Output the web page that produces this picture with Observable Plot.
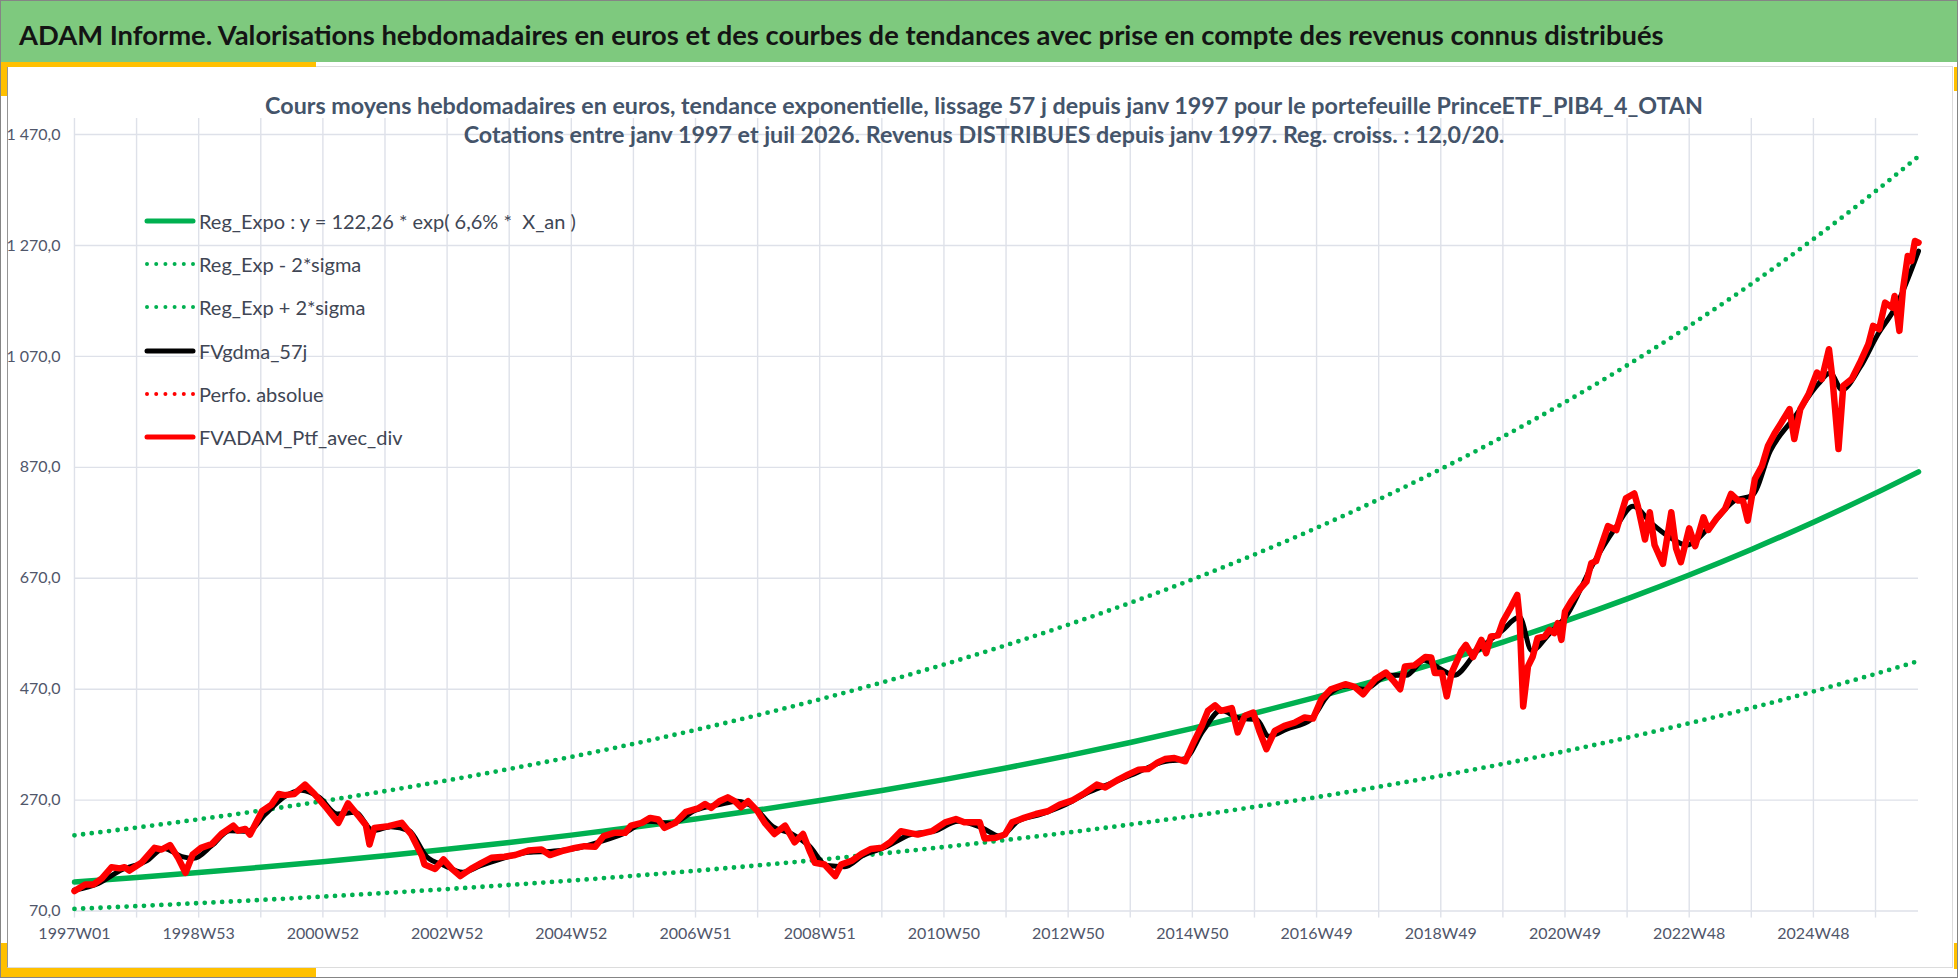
<!DOCTYPE html>
<html><head><meta charset="utf-8">
<script src="https://cdn.jsdelivr.net/npm/d3@7"></script>
<script src="https://cdn.jsdelivr.net/npm/@observablehq/plot@0.6"></script>
<style>
html,body{margin:0;padding:0;background:#fff;}
#frame{position:relative;width:1958px;height:978px;overflow:hidden;background:#fff;font-family:Lato,"Open Sans",sans-serif;box-sizing:border-box;border:1px solid #858585;}
#header{position:absolute;left:0;top:0;width:1956px;height:61px;background:#7ec97e;}
#title{position:absolute;left:18px;top:32.5px;transform:translateY(-50%);white-space:pre;font-weight:700;color:#141414;font-size:30px;}
.yl{position:absolute;background:#ffc000;}
#panel{position:absolute;left:6px;top:65px;width:1946px;height:902px;border:1px solid #dcdcdc;border-left:1px solid #959595;box-sizing:border-box;}
#chart{position:absolute;left:-1px;top:65px;}
.sub{position:absolute;left:983px;transform:translate(-50%,-50%);white-space:pre;font-weight:700;color:#44546a;font-size:24px;}
.lt{position:absolute;left:198px;transform:translateY(-50%);white-space:pre;color:#404654;font-size:20px;}
.ls{position:absolute;left:142px;}
</style>
</head><body>
<div id="frame">
  <div id="panel"></div>
  <div id="header"><div id="title"></div></div>
  <div class="yl" style="left:0;top:61px;width:315px;height:5px"></div>
  <div class="yl" style="left:0;top:61px;width:6px;height:34px"></div>
  <div class="yl" style="left:0;top:942px;width:6px;height:34px"></div>
  <div class="yl" style="left:0;top:967px;width:315px;height:9px"></div>
  <div class="yl" style="left:1953px;top:66px;width:3px;height:24px"></div>
  <div class="yl" style="left:1953px;top:942px;width:3px;height:26px"></div>
  <div id="chart"></div>
  <div id="sub1" class="sub" style="top:104px"></div>
  <div id="sub2" class="sub" style="top:133px"></div>
  <div id="legend"></div>
</div>
<script>
// ---------- texts ----------
const titleText = "ADAM Informe. Valorisations hebdomadaires en euros et des courbes de tendances avec prise en compte des revenus connus distribués";
const subtitle1 = "Cours moyens hebdomadaires en euros, tendance exponentielle, lissage 57 j depuis janv 1997 pour le portefeuille PrinceETF_PIB4_4_OTAN";
const subtitle2 = "Cotations entre janv 1997 et juil 2026. Revenus DISTRIBUES depuis janv 1997. Reg. croiss. : 12,0/20.";

// ---------- axes ----------
const xLabels = ["1997W01","1998W53","2000W52","2002W52","2004W52","2006W51","2008W51","2010W50","2012W50","2014W50","2016W49","2018W49","2020W49","2022W48","2024W48"];
const yTicks = [70,270,470,670,870,1070,1270,1470];
const lastWeek = 1544;

// ---------- legend ----------
const legendLabels = ["Reg_Expo : y = 122,26 * exp( 6,6% *  X_an )","Reg_Exp - 2*sigma","Reg_Exp + 2*sigma","FVgdma_57j","Perfo. absolue","FVADAM_Ptf_avec_div"];
const legendColors = ["#00b050","#00b050","#00b050","#000000","#ff0000","#ff0000"];
const legendDotted = [false,true,true,false,true,false];

// ---------- regression curves (week index, value) ----------
const regWeek = [0,52,104,156,208,260,312,364,416,468,520,572,624,676,728,780,832,884,936,988,1040,1092,1144,1196,1248,1300,1352,1404,1456,1508,1544];
const regValue = [122.26,130.57,139.45,148.93,159.06,169.87,181.41,193.75,206.92,220.99,236.01,252.05,269.19,287.49,307.03,327.91,350.20,374.01,399.43,426.59,455.59,486.56,519.64,554.97,592.69,632.99,676.02,721.98,771.06,823.48,861.9];
const regLow = [73.9,78.9,84.3,90.0,96.1,102.6,109.6,117.1,125.0,133.5,142.6,152.3,162.6,173.7,185.5,198.1,211.6,226.0,241.3,257.8,275.3,294.0,314.0,335.3,358.1,382.5,408.5,436.2,465.9,497.6,520.8];
const regHigh = [206.6,220.5,235.4,251.2,268.2,286.2,305.5,326.1,348.0,371.5,396.5,423.2,451.7,482.1,514.6,549.3,586.2,625.7,667.8,712.8,760.8,812.1,866.8,925.1,987.4,1053.9,1124.9,1200.6,1281.5,1367.8,1430.8];

// ---------- portfolio with dividends (red) ----------
const ptfWeek = [0,9,16,23,31,38,42,46,56,67,73,80,87,93,99,106,115,123,133,137,143,147,157,165,171,176,184,193,201,211,221,229,238,244,247,251,263,274,282,291,293,302,309,316,323,332,341,349,360,369,380,
391,398,408,419,427,436,443,452,461,466,475,482,489,494,503,512,522,528,533,540,547,553,558,564,572,578,586,595,603,610,616,620,628,637,642,651,659,667,676,683,692,701,706,718,729,738,745,758,762,771,779,785,795,805,815,825,
835,846,856,863,874,882,891,899,907,913,921,930,937,944,949,955,960,969,974,980,987,992,998,1005,1013,1022,1030,1037,1044,1052,1064,1072,1079,1089,1098,1104,1110,1114,1122,1131,1136,1139,1145,1149,1153,1161,1165,1171,1178,1182,1186,1192,1196,1203,1208,1210,1213,1217,1221,1225,1231,1235,1239,1242,1245,1248,1253,1261,1266,1270,1274,1284,1291,1299,1306,1309,1315,1319,1323,1330,1337,1341,1345,1352,1357,1364,1368,1375,1382,1387,1393,1397,1401,1407,1413,1418,1424,1431,1436,1440,1445,1452,1459,1463,1469,1472,1477,1481,1488,1495,1502,1506,1511,1516,1522,1524,1528,1531,1535,1538,1541,1544];
const ptfValue = [106,118,118,129,149,147,149,143,157,184,181,189,165,139,172,184,191,209,224,215,218,208,250,262,281,279,281,298,281,256,229,264,241,225,190,220,223,229,208,169,154,146,163,146,133,146,157,166,168,171,179,
181,171,178,184,187,186,205,211,211,224,229,238,235,220,229,249,255,263,256,268,275,268,257,268,250,229,209,224,194,209,176,157,154,133,154,161,173,182,184,194,214,210,208,214,230,236,230,230,201,202,208,230,238,245,250,262,
269,283,298,293,307,316,325,326,338,344,346,340,374,404,431,441,431,436,392,422,428,395,362,395,404,410,419,417,452,470,479,474,461,488,500,486,470,511,513,528,527,499,499,457,499,538,550,528,559,535,565,567,592,619,640,598,439,511,529,562,565,577,571,589,559,610,628,652,664,697,701,764,757,814,823,800,740,789,730,696,789,724,699,760,728,780,757,778,795,822,810,810,774,849,873,909,933,957,975,921,975,1002,1041,1029,1083,1029,903,1017,1029,1059,1092,1125,1119,1167,1158,1179,1116,1191,1251,1242,1278,1275];

// ---------- 57-day moving average (black) ----------
const smaWeek = [0,20,40,60,75,90,100,115,130,145,160,175,190,205,220,235,250,265,280,295,310,325,340,360,380,400,420,440,460,480,500,520,540,555,570,585,600,615,630,645,660,680,700,720,740,760,775,790,810,830,850,870,890,910,930,945,960,975,990,1000,1015,1035,1050,1065,1080,1100,1115,1130,1145,1155,1175,1195,1210,1220,1235,1250,1270,1290,1305,1320,1335,1350,1370,1390,1405,1420,1440,1460,1470,1480,1495,1510,1525,1544];
const smaValue = [108,120,145,160,183,168,165,188,215,214,245,275,288,275,245,248,215,222,215,168,152,140,152,166,176,178,183,195,210,232,228,252,262,268,255,222,210,188,152,150,170,186,208,214,232,220,205,232,245,262,285,302,320,338,345,395,432,418,415,385,398,415,460,476,470,495,495,522,505,495,540,575,600,540,570,605,690,760,800,770,745,730,765,810,820,900,960,1020,1040,1010,1050,1110,1160,1260];

// ---------- build tables ----------
const reg = regWeek.map((w,i)=>({w, v:regValue[i], lo:regLow[i], hi:regHigh[i]}));
const ptf = ptfWeek.map((w,i)=>({w, v:ptfValue[i]}));
const sma = smaWeek.map((w,i)=>({w, v:smaValue[i]}));
const xTicks = d3.range(0, lastWeek, 52);
const fr = d3.formatLocale({decimal:",", thousands:" ", grouping:[3], currency:["","€"]}).format(",.1f");
const gridColor = "#dee1e9";

const chart = Plot.plot({
  width: 1958, height: 912,
  marginLeft: 74, marginRight: 39, marginTop: 52, marginBottom: 67,
  style: {background: "transparent", fontFamily: "Lato, 'Open Sans', sans-serif", fontSize: "16px", color: "#50566a", overflow: "visible"},
  x: {domain: [0, lastWeek]},
  y: {domain: [70, 1499]},
  marks: [
    Plot.gridY(yTicks, {stroke: gridColor, strokeOpacity: 1, strokeWidth: 1.4}),
    Plot.gridX(xTicks, {stroke: gridColor, strokeOpacity: 1, strokeWidth: 1.4}),
    Plot.axisX(xTicks, {tickSize: 7, tickPadding: 10, stroke: gridColor, strokeWidth: 1.4, fill: "#50566a",
      tickFormat: w => (w % 104 === 0 ? xLabels[w / 104] : ""), label: null}),
    Plot.axisY(yTicks, {tickSize: 0, tickPadding: 14, tickFormat: fr, fill: "#50566a", label: null}),
    Plot.line(reg, {x: "w", y: "v", stroke: "#00b050", strokeWidth: 5.5, curve: "monotone-x"}),
    Plot.line(reg, {x: "w", y: "lo", stroke: "#00b050", strokeWidth: 4.8, strokeDasharray: "0 8.7", strokeLinecap: "round", curve: "monotone-x"}),
    Plot.line(reg, {x: "w", y: "hi", stroke: "#00b050", strokeWidth: 4.8, strokeDasharray: "0 8.7", strokeLinecap: "round", curve: "monotone-x"}),
    Plot.line(sma, {x: "w", y: "v", stroke: "#000000", strokeWidth: 5, curve: "monotone-x", strokeLinejoin: "round"}),
    Plot.line(ptf, {x: "w", y: "v", stroke: "#ff0000", strokeWidth: 6.5, strokeLinejoin: "round", strokeLinecap: "round"})
  ]
});
document.getElementById("chart").appendChild(chart);

// ---------- texts ----------
function fit(el, target) {
  const w = el.getBoundingClientRect().width;
  const fs = parseFloat(getComputedStyle(el).fontSize);
  const nfs = fs * target / w;
  el.style.fontSize = nfs + "px";
  return nfs;
}
const t = document.getElementById("title"); t.textContent = titleText; fit(t, 1645);
const s1 = document.getElementById("sub1"); s1.textContent = subtitle1;
const s2 = document.getElementById("sub2"); s2.textContent = subtitle2;
const sfs = fit(s1, 1439); s2.style.fontSize = sfs + "px";

const legend = document.getElementById("legend");
let lfs = null;
legendLabels.forEach((lab, k) => {
  const cy = 220 + k * 43.2;
  const svgNS = "http://www.w3.org/2000/svg";
  const svg = document.createElementNS(svgNS, "svg");
  svg.setAttribute("width", 54); svg.setAttribute("height", 12);
  svg.setAttribute("class", "ls"); svg.style.top = (cy - 6) + "px";
  const ln = document.createElementNS(svgNS, "line");
  ln.setAttribute("x1", 4); ln.setAttribute("x2", 50); ln.setAttribute("y1", 6); ln.setAttribute("y2", 6);
  ln.setAttribute("stroke", legendColors[k]);
  ln.setAttribute("stroke-linecap", "round");
  if (legendDotted[k]) { ln.setAttribute("stroke-width", 4); ln.setAttribute("stroke-dasharray", "0 9.2"); }
  else { ln.setAttribute("stroke-width", 5); }
  svg.appendChild(ln); legend.appendChild(svg);
  const tx = document.createElement("div");
  tx.className = "lt"; tx.style.top = cy + "px"; tx.textContent = lab;
  legend.appendChild(tx);
  if (k === 0) lfs = fit(tx, 377); else tx.style.fontSize = lfs + "px";
});
</script>
</body></html>
